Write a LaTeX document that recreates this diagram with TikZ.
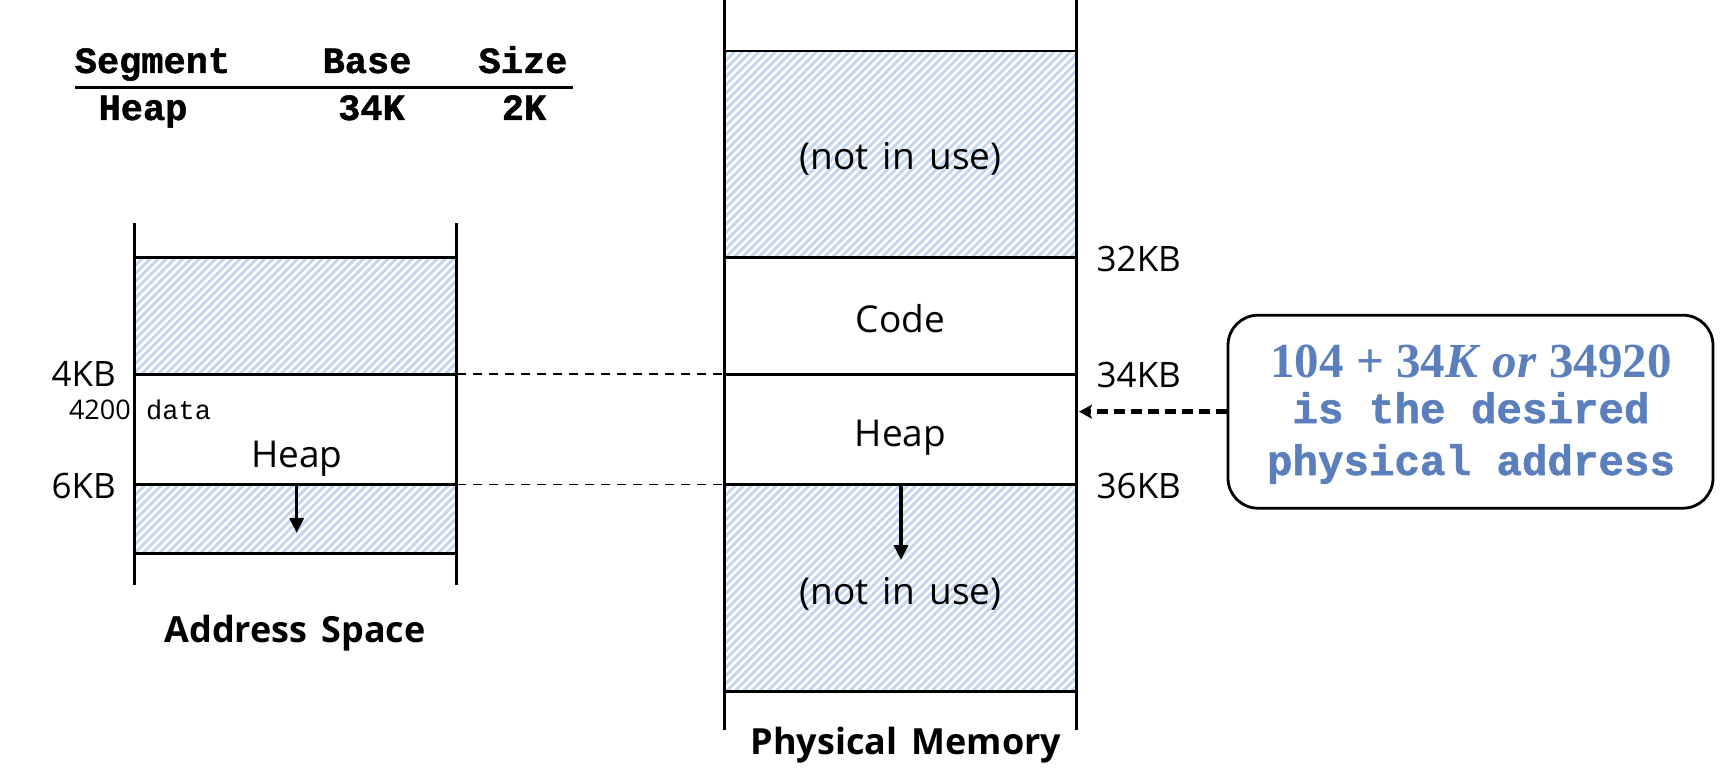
\documentclass[tikz,border=0pt]{standalone}
\usepackage{fontspec}
\setmainfont{Open Sans}[WordSpace=1.5]
\newfontfamily\monofam{Liberation Mono}[BoldFeatures={FakeBold=1.3}]
\newfontfamily\seriffam{Liberation Serif}
\usetikzlibrary{patterns.meta,arrows.meta}
\definecolor{hatch}{RGB}{196,213,240}
\definecolor{callblue}{RGB}{91,127,188}
\begin{document}
\begin{tikzpicture}[x=1pt,y=-1pt,
  wall/.style={line width=2.8pt,line cap=rect},
  hatched/.style={pattern={Lines[angle=45,distance=5.8pt,line width=3pt]},pattern color=hatch},
  lbl/.style={inner sep=0pt,font=\fontsize{37}{40}\selectfont,anchor=base},
  kb/.style={inner sep=0pt,font=\fontsize{35}{38}\selectfont,anchor=base},
  ttl/.style={inner sep=0pt,font=\bfseries\fontsize{36}{40}\selectfont,anchor=base},
  tab/.style={inner sep=0pt,font=\monofam\bfseries\fontsize{37}{40}\selectfont,anchor=base},
  calltxt/.style={inner sep=0pt,text=callblue,font=\monofam\bfseries\fontsize{42.5}{46}\selectfont,anchor=base},
  linkline/.style={line width=1.8pt,draw=black,dash pattern=on 9pt off 7pt},
  growarrow/.style={line width=3.5pt,-{Triangle[length=15pt,width=14pt]}},
  pointarrow/.style={line width=4.5pt,dash pattern=on 11pt off 6pt,-{Stealth[length=13pt,width=14pt,inset=3pt]}}
]
\useasboundingbox (0,0) rectangle (1726,778);

% ---------- table ----------
\node[tab] (tseg) at (152.5,73) {Segment};
\node[tab] (tbase) at (367,73) {Base};
\node[tab] (tsize) at (523,73) {Size};
\draw[line width=3pt] (75,88) coordinate (ul1) -- (573,88) coordinate (ul2);
\node[tab] (theap) at (143,120) {Heap};
\node[tab] (t34) at (371.5,120) {34K};
\node[tab] (t2) at (524,120) {2K};

% ---------- address space ----------
\fill[hatched] (134.3,257.6) rectangle (456.8,374.3);
\fill[hatched] (134.3,484.4) rectangle (456.8,553.7);
\draw[wall] (134.3,224) -- (134.3,583.4);
\draw[wall] (456.8,224) -- (456.8,583.4);
\foreach \yy in {257.6,374.3,484.4,553.7}
  \draw[wall] (134.3,\yy) -- (456.8,\yy);
\coordinate (a4) at (456.8,374.3);
\coordinate (a6) at (456.8,484.4);
\node[kb,anchor=base east] (l4) at (116,386) {4KB};
\node[kb,anchor=base east] (l6) at (116,498) {6KB};
\node[inner sep=0pt,anchor=base east,font=\fontsize{27}{29}\selectfont] (l4200) at (131,419) {4200};
\node[inner sep=0pt,anchor=base west,font=\monofam\fontsize{27}{28}\selectfont] (ldata) at (146,419) {data};
\node[lbl] (aheap) at (296.7,467) {Heap};
\coordinate (agtop) at (296.7,484.4);
\coordinate (agbot) at (296.7,533);
\draw[growarrow] (agtop) -- (agbot);
\node[ttl] (aspace) at (295,642) {Address Space};

% ---------- physical memory ----------
\fill[hatched] (724.3,51) rectangle (1076.6,257.6);
\fill[hatched] (724.3,484.4) rectangle (1076.6,691.3);
\draw[wall] (724.3,-5) -- (724.3,728.7);
\draw[wall] (1076.6,-5) -- (1076.6,728.7);
\foreach \yy in {51,257.6,374.3,484.4,691.3}
  \draw[wall] (724.3,\yy) -- (1076.6,\yy);
\coordinate (p34) at (724.3,374.3);
\coordinate (p36) at (724.3,484.4);
\coordinate (pin) at (1079,411.7);
\node[lbl] (pfree1) at (900.5,170) {(not in use)};
\node[lbl] (pcode) at (900.5,332) {Code};
\node[lbl] (pheap) at (900.5,446) {Heap};
\node[lbl] (pfree2) at (900.5,604) {(not in use)};
\coordinate (pgtop) at (901,484.4);
\coordinate (pgbot) at (901,560);
\draw[growarrow] (pgtop) -- (pgbot);
\node[kb,anchor=base west] (l32) at (1096.5,271) {32KB};
\node[kb,anchor=base west] (l34) at (1096.5,387) {34KB};
\node[kb,anchor=base west] (l36) at (1096.5,498) {36KB};
\node[ttl] (pmem) at (906,754) {Physical Memory};

% ---------- links ----------
\draw[linkline] (a4) -- (p34);
\draw[linkline] (a6) -- (p36);

% ---------- callout ----------
\node[draw,line width=2.8pt,rounded corners=30pt,minimum width=485pt,minimum height=193pt,inner sep=0pt] (call) at (1470.5,411.7) {};
\node[inner sep=0pt,anchor=base,text=callblue,font=\seriffam\bfseries\fontsize{49}{52}\selectfont] (c1) at (1471,377) {104 + 34\textit{K} \textit{or} 34920};
\node[calltxt] (c2) at (1471,423) {is the desired};
\node[calltxt] (c3) at (1471,475) {physical address};
\draw[pointarrow] (call.west) -- (pin);
\end{tikzpicture}
\end{document}
